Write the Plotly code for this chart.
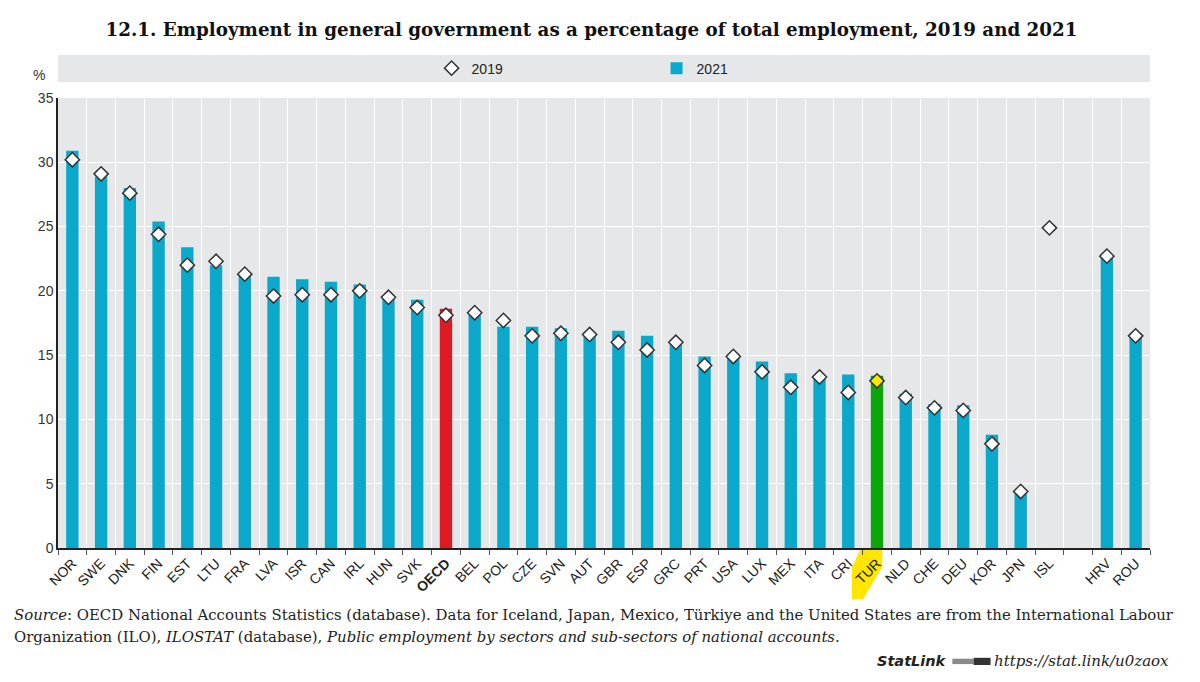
import plotly.graph_objects as go

categories = ["NOR", "SWE", "DNK", "FIN", "EST", "LTU", "FRA", "LVA", "ISR", "CAN",
              "IRL", "HUN", "SVK", "OECD", "BEL", "POL", "CZE", "SVN", "AUT", "GBR",
              "ESP", "GRC", "PRT", "USA", "LUX", "MEX", "ITA", "CRI", "TUR", "NLD",
              "CHE", "DEU", "KOR", "JPN", "ISL", " ", "HRV", "ROU"]

values_2021 = [30.9, 28.9, 28.0, 25.4, 23.4, 22.0, 21.2, 21.1, 20.9, 20.7,
               20.5, 19.4, 19.3, 18.6, 18.2, 17.2, 17.2, 17.1, 16.8, 16.9,
               16.5, 15.9, 14.9, 14.8, 14.5, 13.6, 13.4, 13.5, 13.4, 12.0,
               11.2, 11.1, 8.8, 4.3, None, None, 22.6, 16.7]

values_2019 = [30.2, 29.1, 27.6, 24.4, 22.0, 22.3, 21.3, 19.6, 19.7, 19.7,
               20.0, 19.5, 18.7, 18.1, 18.3, 17.7, 16.5, 16.7, 16.6, 16.0,
               15.4, 16.0, 14.2, 14.9, 13.7, 12.5, 13.3, 12.1, 13.0, 11.7,
               10.9, 10.7, 8.1, 4.4, 24.9, None, 22.7, 16.5]

y_ticks = [0, 5, 10, 15, 20, 25, 30, 35]

BLUE = "#0aa8ca"
RED = "#e01a22"
GREEN = "#0ba60b"
YELLOW = "#ffe600"
BG = "#e6e7e9"

bar_colors = [RED if c == "OECD" else GREEN if c == "TUR" else BLUE for c in categories]
dia_colors = [YELLOW if c == "TUR" else "white" for c in categories]
tick_text = ["<b>OECD</b>" if c == "OECD" else c for c in categories]

fig = go.Figure()
fig.add_trace(go.Bar(
    x=categories, y=values_2021, name="2021", legendrank=2,
    marker=dict(color=bar_colors, line=dict(width=0)),
))
fig.add_trace(go.Scatter(
    x=categories, y=values_2019, mode="markers", name="2019", legendrank=1,
    marker=dict(symbol="diamond", size=11, color=dia_colors,
                line=dict(color="#333333", width=1.5)),
))

# highlight behind TUR tick label
tur = categories.index("TUR")
pts = [(-0.567, -0.003), (0.184, -0.003), (0.184, -0.0416),
       (-0.486, -0.114), (-0.869, -0.114), (-0.869, -0.0416)]
path = "M " + " L ".join(f"{tur + dx},{dy}" for dx, dy in pts) + " Z"

shapes = [
    dict(type="rect", xref="paper", yref="paper", x0=0, x1=1, y0=1.0356, y1=1.0956,
         fillcolor=BG, line=dict(width=0), layer="below"),
    dict(type="path", xref="x", yref="paper", path=path,
         fillcolor=YELLOW, line=dict(width=0), layer="below"),
    # small StatLink logo blocks
    dict(type="rect", xref="paper", yref="paper", x0=0.8190, x1=0.8385, y0=-0.258, y1=-0.246,
         fillcolor="#8a8a8a", line=dict(width=0)),
    dict(type="rect", xref="paper", yref="paper", x0=0.8385, x1=0.8540, y0=-0.260, y1=-0.244,
         fillcolor="#333333", line=dict(width=0)),
]

sans = "Liberation Sans Narrow, Arial Narrow, Liberation Sans, sans-serif"
serif = "DejaVu Serif, serif"

# page body has an 8px margin: figure is laid out 8px up/left of reference coordinates
fig.update_layout(
    width=1192, height=674,
    margin=dict(l=50, r=50, t=90, b=134, autoexpand=False),
    paper_bgcolor="white", plot_bgcolor=BG,
    bargap=0.57,
    title=dict(
        text="<b>12.1. Employment in general government as a percentage of total employment, 2019 and 2021</b>",
        x=0.4895, xanchor="center", y=0.9674, yanchor="middle",
        font=dict(family="DejaVu Serif, serif", size=18.3, color="#111111"),
    ),
    legend=dict(orientation="h", xref="container", yref="container",
                x=0.5441, xanchor="center", y=0.9102, yanchor="middle",
                bgcolor="rgba(0,0,0,0)", font=dict(family=sans, size=14, color="#222222"),
                entrywidth=180),
    shapes=shapes,
    showlegend=True,
    annotations=[
        dict(text="%", xref="paper", yref="paper", x=-0.01, y=1.05, xanchor="right",
             yanchor="middle", showarrow=False, font=dict(family=sans, size=14, color="#333333")),
        dict(text="<i>Source</i>: OECD National Accounts Statistics (database). Data for Iceland, Japan, Mexico, Türkiye and the United States are from the International Labour",
             xref="paper", yref="paper", x=-0.042, y=-0.1489, xanchor="left", yanchor="middle",
             align="left", showarrow=False,
             font=dict(family=serif, size=14.9, color="#222222")),
        dict(text="Organization (ILO), <i>ILOSTAT</i> (database), <i>Public employment by sectors and sub-sectors of national accounts</i>.",
             xref="paper", yref="paper", x=-0.042, y=-0.1978, xanchor="left", yanchor="middle",
             align="left", showarrow=False,
             font=dict(family=serif, size=14.9, color="#222222")),
        dict(text="<b><i>StatLink</i></b>", xref="paper", yref="paper", x=0.8155, y=-0.2511,
             xanchor="right", yanchor="middle", showarrow=False,
             font=dict(family="DejaVu Sans, sans-serif", size=14.5, color="#222222")),
        dict(text="<i>https://stat.link/u0zaox</i>", xref="paper", yref="paper", x=1.0192, y=-0.2511,
             xanchor="right", yanchor="middle", showarrow=False,
             font=dict(family=serif, size=15, color="#222222")),
    ],
)

fig.update_xaxes(
    type="category", categoryorder="array", categoryarray=categories,
    tickmode="array", tickvals=categories, ticktext=tick_text,
    tickson="boundaries", ticks="outside", ticklen=5, tickcolor="#555555",
    showgrid=True, gridcolor="white", gridwidth=1.2,
    showline=True, linecolor="#222222", linewidth=1.5,
    tickangle=-45, tickfont=dict(family=sans, size=14, color="#222222"),
    range=[-0.5, len(categories) - 0.5], automargin=False,
)
fig.update_yaxes(
    range=[0, 35], tickvals=y_ticks, showgrid=True, gridcolor="white", gridwidth=1.2,
    showline=True, linecolor="#222222", linewidth=1.5, zeroline=False,
    ticks="", tickfont=dict(family=sans, size=14, color="#333333"), automargin=False,
)

fig.write_html("out.html")
